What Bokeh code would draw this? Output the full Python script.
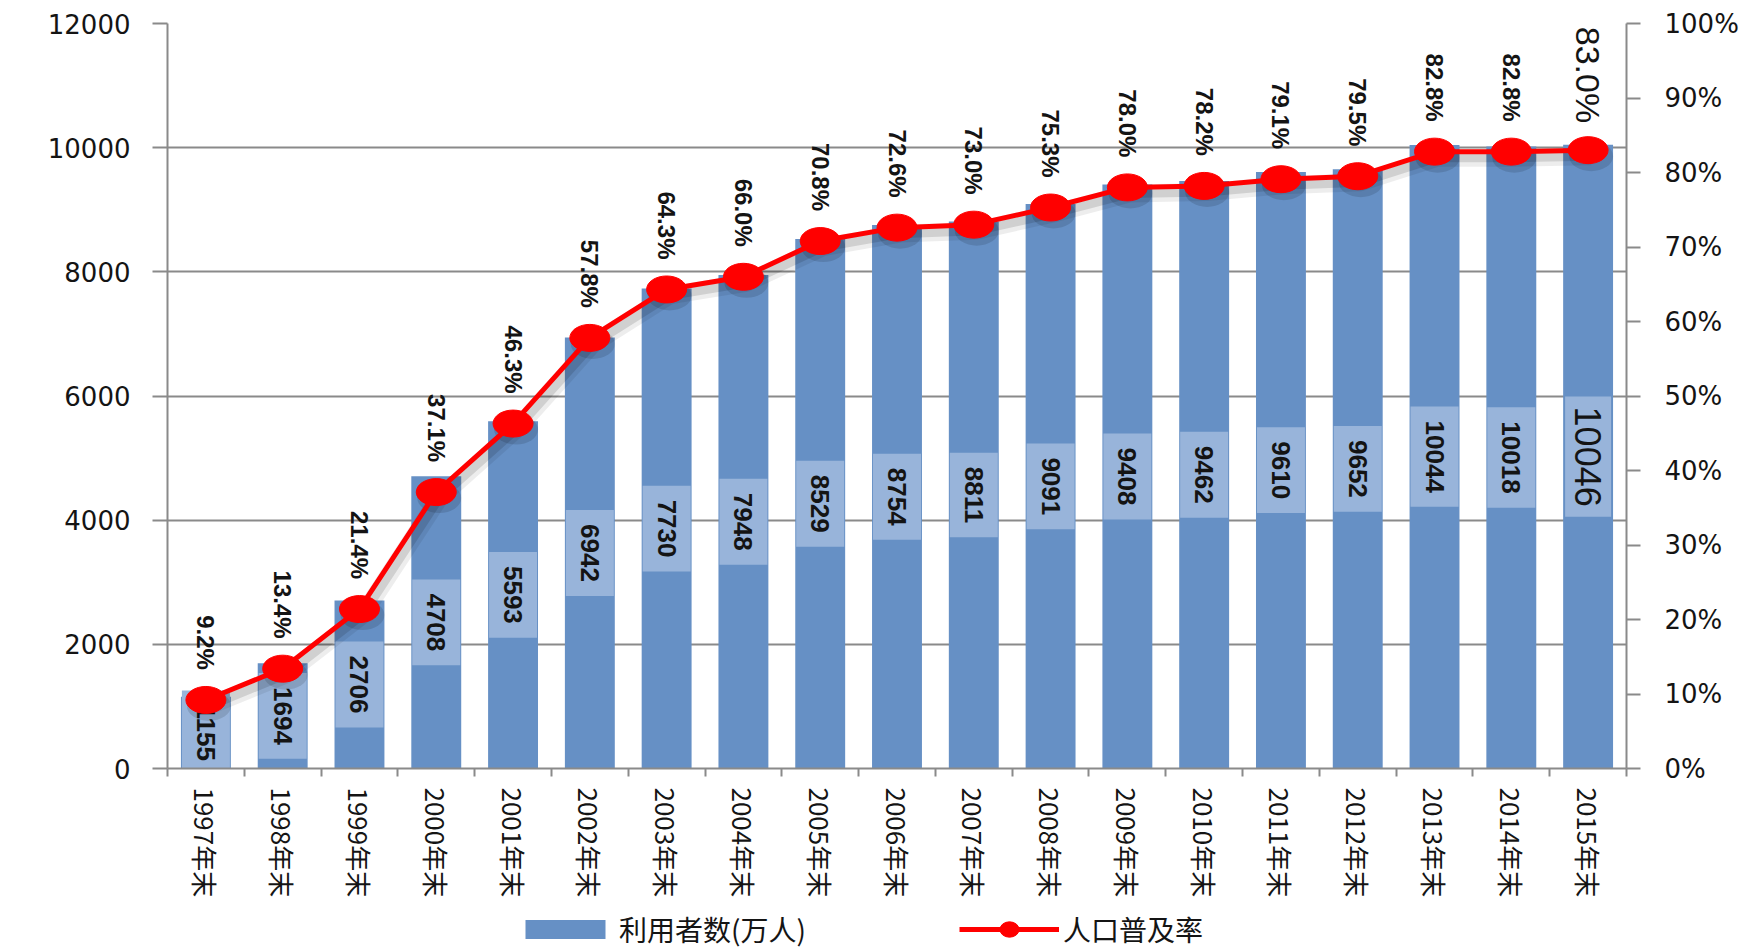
import math
from bokeh.plotting import figure
from bokeh.layouts import column
from bokeh.models import (Range1d, LinearAxis, FixedTicker, NumeralTickFormatter,
                          Legend, LegendItem)
from bokeh.core.properties import value
from bokeh.embed import file_html
from bokeh.resources import INLINE

# ---- data ----
years = ["1997年末", "1998年末", "1999年末", "2000年末", "2001年末", "2002年末",
         "2003年末", "2004年末", "2005年末", "2006年末", "2007年末", "2008年末",
         "2009年末", "2010年末", "2011年末", "2012年末", "2013年末", "2014年末",
         "2015年末"]
users = [1155, 1694, 2706, 4708, 5593, 6942, 7730, 7948, 8529, 8754, 8811, 9091,
         9408, 9462, 9610, 9652, 10044, 10018, 10046]
rate = [9.2, 13.4, 21.4, 37.1, 46.3, 57.8, 64.3, 66.0, 70.8, 72.6, 73.0, 75.3,
        78.0, 78.2, 79.1, 79.5, 82.8, 82.8, 83.0]
left_ticks = [0, 2000, 4000, 6000, 8000, 10000, 12000]
right_ticks = [0.0, 0.1, 0.2, 0.3, 0.4, 0.5, 0.6, 0.7, 0.8, 0.9, 1.0]
bar_name = "利用者数(万人)"
line_name = "人口普及率"

n = len(years)
xs = [i + 0.5 for i in range(n)]
rate_frac = [r / 100 for r in rate]
mid = [u / 2 for u in users]
user_txt = [str(u) for u in users]
rate_txt = ["%.1f%%" % r for r in rate]

GRAY = "#8a8a8a"
TXT = "#141414"
BLUE = "#6690c5"
LIGHT = "#98b4da"
RED = "#ff0000"

FW, FH = 1459, 745
p = figure(output_backend="svg", toolbar_location=None,
           x_range=Range1d(0, n), y_range=Range1d(0, 12000),
           min_border_left=167, min_border_right=138, min_border_top=23,
           min_border_bottom=136)
p.frame_width = FW
p.frame_height = FH
# drop-shadow ranges: same scales, shifted a few pixels right/down
sdx = 3 * n / FW
sdy = 6 / FH
p.extra_x_ranges = {"shx": Range1d(-sdx, n - sdx)}
p.extra_y_ranges = {"pct": Range1d(0, 1), "shy": Range1d(sdy, 1 + sdy)}
p.outline_line_color = None
p.background_fill_color = "white"

# bars
bars = p.vbar(x=xs, top=users, width=0.65, fill_color=BLUE, line_color=None)

# value labels inside bars
lab_style = dict(angle=-math.pi / 2, text_align="center", text_baseline="middle",
                 text_font=value("Liberation Sans"), text_color=TXT,
                 background_fill_color=LIGHT)
p.text(x=xs[:-1], y=mid[:-1], text=user_txt[:-1], text_font_style="bold",
       text_font_size="26px", padding=dict(left=14, right=14, top=15, bottom=15),
       **lab_style)
p.text(x=xs[-1:], y=mid[-1:], text=user_txt[-1:], text_font_style="normal",
       text_font_size="36px", padding=dict(left=10, right=10, top=10, bottom=10),
       **lab_style)

# soft shadow under the rate line
p.line(x=xs, y=rate_frac, x_range_name="shx", y_range_name="shy",
       line_color="black", line_alpha=0.07, line_width=18)
p.line(x=xs, y=rate_frac, x_range_name="shx", y_range_name="shy",
       line_color="black", line_alpha=0.12, line_width=9)
p.ellipse(x=xs, y=rate_frac, width=44, height=30, width_units="screen",
          height_units="screen", x_range_name="shx", y_range_name="shy",
          fill_color="black", fill_alpha=0.12, line_color=None)

# rate line
line = p.line(x=xs, y=rate_frac, y_range_name="pct", line_color=RED,
              line_width=5)
marks = p.ellipse(x=xs, y=rate_frac, width=40, height=27, width_units="screen",
                  height_units="screen", y_range_name="pct",
                  fill_color=RED, line_color=RED)

pct_style = dict(angle=-math.pi / 2, text_align="right", text_baseline="middle",
                 text_font=value("Liberation Sans"), text_color=TXT,
                 y_range_name="pct")
p.text(x=xs[:-1], y=rate_frac[:-1], text=rate_txt[:-1], text_font_style="bold",
       text_font_size="24px", y_offset=-30, **pct_style)
p.text(x=xs[-1:], y=rate_frac[-1:], text=rate_txt[-1:], text_font_style="normal",
       text_font_size="34px", y_offset=-27, **pct_style)

# left axis
ya = p.yaxis[0]
ya.ticker = FixedTicker(ticks=left_ticks)
ya.major_label_text_font = "DejaVu Sans"
ya.major_label_text_font_size = "26px"
ya.major_label_text_color = TXT
ya.axis_line_color = GRAY
ya.axis_line_width = 2
ya.major_tick_line_color = GRAY
ya.major_tick_line_width = 2
ya.major_tick_out = 15
ya.major_tick_in = 0
ya.minor_tick_line_color = None
ya.major_label_standoff = 22

# right axis
ra = LinearAxis(y_range_name="pct", ticker=FixedTicker(ticks=right_ticks),
                formatter=NumeralTickFormatter(format="0%"))
ra.major_label_text_font = "DejaVu Sans"
ra.major_label_text_font_size = "26px"
ra.major_label_text_color = TXT
ra.axis_line_color = GRAY
ra.axis_line_width = 2
ra.major_tick_line_color = GRAY
ra.major_tick_line_width = 2
ra.major_tick_out = 14
ra.major_tick_in = 0
ra.minor_tick_line_color = None
ra.major_label_standoff = 24
p.add_layout(ra, "right")

# x axis
xa = p.xaxis[0]
xa.ticker = FixedTicker(ticks=xs, minor_ticks=list(range(n + 1)))
xa.major_label_overrides = {x: y for x, y in zip(xs, years)}
xa.major_label_orientation = -math.pi / 2
xa.major_label_text_font = "Noto Sans CJK SC"
xa.major_label_text_font_size = "26px"
xa.major_label_text_color = TXT
xa.axis_line_color = GRAY
xa.axis_line_width = 2
xa.major_tick_line_color = None
xa.minor_tick_line_color = GRAY
xa.minor_tick_line_width = 2
xa.minor_tick_out = 8
xa.minor_tick_in = 0
xa.major_label_standoff = 11

# grid
p.xgrid.visible = False
p.ygrid.ticker = FixedTicker(ticks=left_ticks)
p.ygrid.grid_line_color = GRAY
p.ygrid.grid_line_width = 2

# legend strip below the chart (its renderers use the real data, kept off-range)
lg = figure(width=1764, height=46, output_backend="svg", toolbar_location=None,
            x_range=Range1d(0, n), y_range=Range1d(20000, 30000),
            x_axis_type=None, y_axis_type=None, min_border=0)
lg.outline_line_color = None
lg.grid.visible = False
lb = lg.vbar(x=xs, top=users, width=0.65, fill_color=BLUE, line_color=None)
ll = lg.line(x=xs, y=rate_frac, line_color=RED, line_width=5)
le = lg.ellipse(x=xs, y=rate_frac, width=30, height=24, width_units="screen",
                height_units="screen", fill_color=RED, line_color=RED)
legend = Legend(items=[LegendItem(label=bar_name, renderers=[lb]),
                       LegendItem(label=line_name, renderers=[ll, le])],
                orientation="horizontal", location=(348, 1),
                label_text_font="Noto Sans CJK SC", label_text_font_size="28px",
                label_text_color=TXT, glyph_width=100, glyph_height=24,
                spacing=153, label_standoff=4, border_line_color=None,
                background_fill_alpha=0, padding=0, margin=0)
lg.add_layout(legend, "center")

page = column(p, lg, spacing=0)
open("out.html", "w").write(file_html(page, INLINE))
